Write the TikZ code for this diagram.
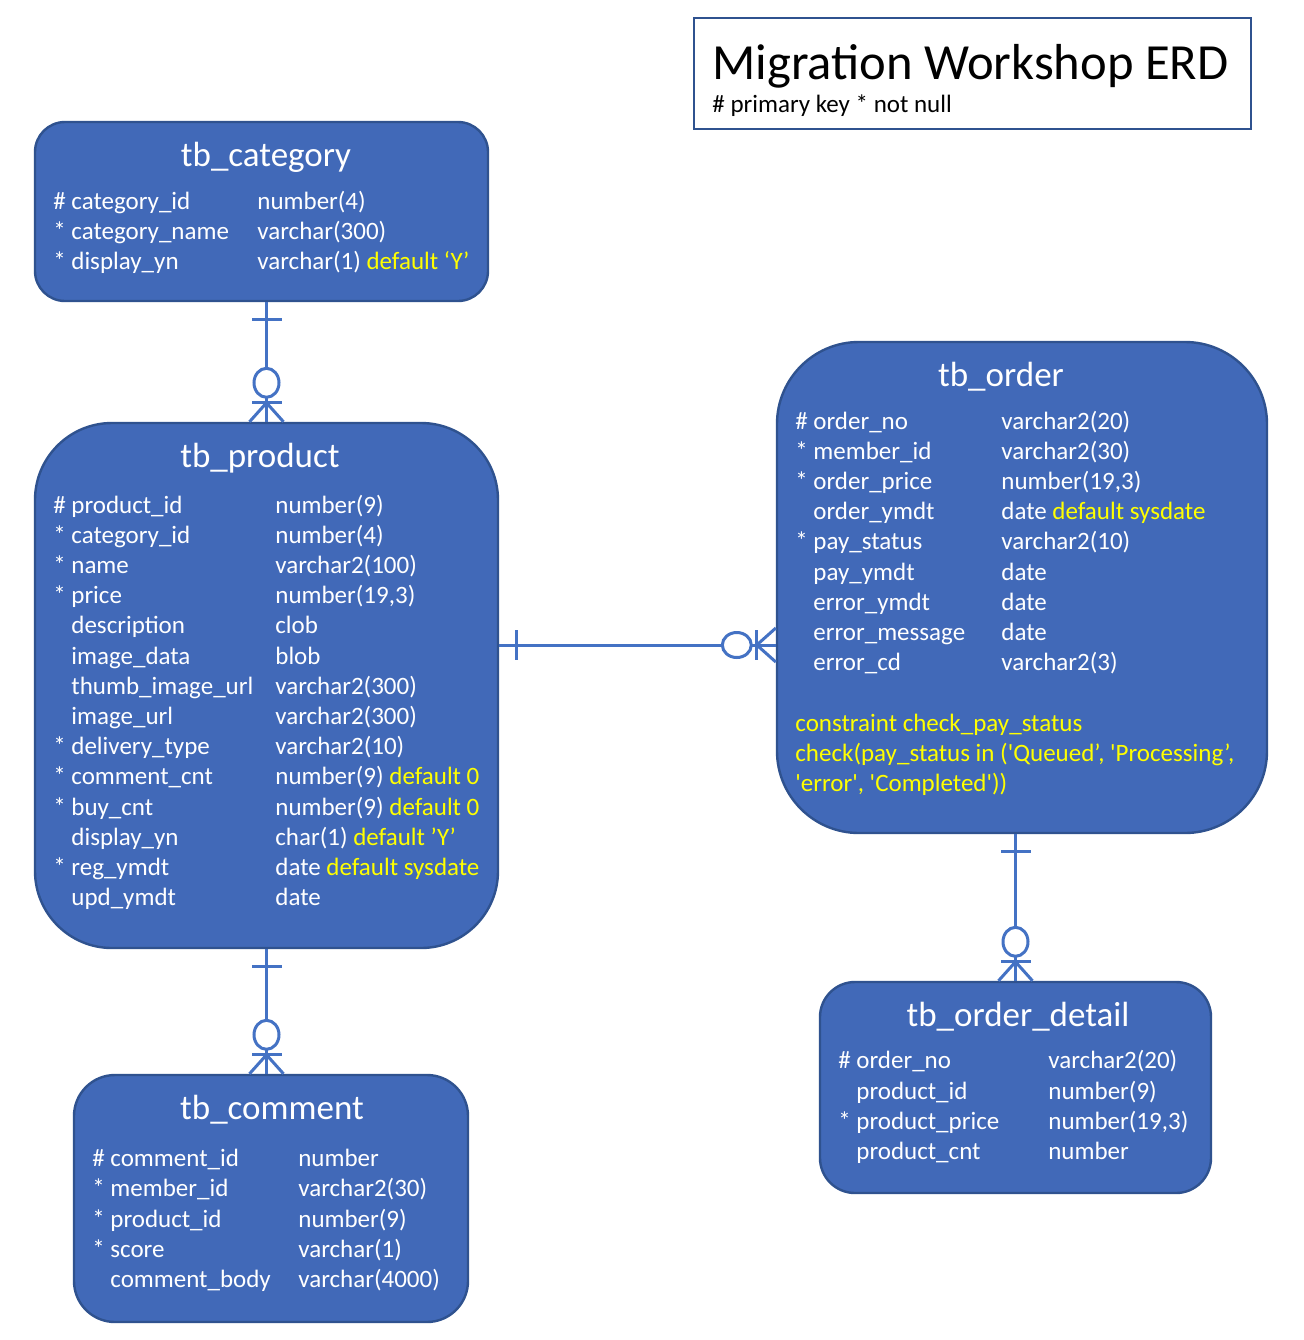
\documentclass[tikz,border=0pt]{standalone}
\usepackage{fontspec}
\setmainfont{Carlito}
\usetikzlibrary{calc}
\definecolor{erfill}{HTML}{4169B8}
\definecolor{erline}{HTML}{2F528F}
\definecolor{erlink}{HTML}{4472C4}
\definecolor{eryel}{HTML}{FFFF00}
\newlength\colw
\newcommand{\fld}[3]{\makebox[9pt][l]{#1}\makebox[\colw][l]{#2}#3}
\newcommand{\dft}[1]{\textcolor{eryel}{#1}}
\tikzset{
  entity/.style={draw=erline, line width=1.2pt, fill=erfill},
  tbname/.style={anchor=base, text=white, inner sep=0pt, font=\fontsize{17.5}{21}\selectfont},
  % anchored at the baseline of the last line
  fields/.style={anchor=base west, text=white, align=left, inner sep=0pt, font=\fontsize{12.5}{15.1}\selectfont},
  rel/.style={draw=erlink, line width=1.5pt},
  onebar/.pic={\draw[rel] (17,-15) -- (17,15);},
  zeromany/.pic={
    \draw[rel] (0,-17) -- (-19,0) -- (0,17);
    \draw[rel] (-19,-15) -- (-19,15);
    \draw[rel, fill=white] (-39,0) ellipse [x radius=14.5, y radius=12.5];
  },
}

\begin{document}
\begin{tikzpicture}[x=0.5pt, y=-0.5pt]
  \useasboundingbox[fill=white] (0,0) rectangle (1304,1340);

  % Title box
  \node[draw=erline, line width=1pt, minimum width=278.5pt, minimum height=55.5pt] (ttl) at (972.5,73.5) {};
  \node[anchor=base west, inner sep=0pt, font=\fontsize{25.3}{30}\selectfont] (ttl-a) at (712,79) {Migration Workshop ERD};
  \node[anchor=base west, inner sep=0pt, font=\fontsize{12.5}{15}\selectfont] (ttl-b) at (712,112) {\# primary key * not null};

  % Entities
  \node[entity, rounded corners=15pt, minimum width=226.5pt, minimum height=89.5pt] (cat) at (261.5,211.5) {};
  \node[entity, rounded corners=38.5pt, minimum width=231.5pt, minimum height=262.5pt] (prod) at (266.5,685.5) {};
  \node[entity, rounded corners=20.5pt, minimum width=197pt, minimum height=123.5pt] (com) at (271,1198.5) {};
  \node[entity, rounded corners=41pt, minimum width=245pt, minimum height=245.5pt] (ord) at (1022,587.5) {};
  \node[entity, rounded corners=17.5pt, minimum width=195.5pt, minimum height=105.5pt] (det) at (1015.5,1087.5) {};

  % Table names
  \node[tbname] (cat-t) at (266,166) {tb\_category};
  \node[tbname] (prod-t) at (260,467) {tb\_product};
  \node[tbname] (com-t) at (272,1119) {tb\_comment};
  \node[tbname] (ord-t) at (1001,386) {tb\_order};
  \node[tbname] (det-t) at (1018,1026) {tb\_order\_detail};

  % Columns
  \setlength\colw{93pt}
  \node[fields] (cat-f) at (53,269.4) {\fld{\#}{category\_id}{number(4)}\\
    \fld{*}{category\_name}{varchar(300)}\\
    \fld{*}{display\_yn}{varchar(1) \dft{default ‘Y’}}};
  \setlength\colw{102pt}
  \node[fields] (prod-f) at (53,905.6) {\fld{\#}{product\_id}{number(9)}\\
    \fld{*}{category\_id}{number(4)}\\
    \fld{*}{name}{varchar2(100)}\\
    \fld{*}{price}{number(19,3)}\\
    \fld{}{description}{clob}\\
    \fld{}{image\_data}{blob}\\
    \fld{}{thumb\_image\_url}{varchar2(300)}\\
    \fld{}{image\_url}{varchar2(300)}\\
    \fld{*}{delivery\_type}{varchar2(10)}\\
    \fld{*}{comment\_cnt}{number(9) \dft{default 0}}\\
    \fld{*}{buy\_cnt}{number(9) \dft{default 0}}\\
    \fld{}{display\_yn}{char(1) \dft{default ’Y’}}\\
    \fld{*}{reg\_ymdt}{date \dft{default sysdate}}\\
    \fld{}{upd\_ymdt}{date}};
  \setlength\colw{94pt}
  \node[fields] (com-f) at (92,1287.5) {\fld{\#}{comment\_id}{number}\\
    \fld{*}{member\_id}{varchar2(30)}\\
    \fld{*}{product\_id}{number(9)}\\
    \fld{*}{score}{varchar(1)}\\
    \fld{}{comment\_body}{varchar(4000)}};
  \node[fields] (ord-f) at (795,791.5) {\fld{\#}{order\_no}{varchar2(20)}\\
    \fld{*}{member\_id}{varchar2(30)}\\
    \fld{*}{order\_price}{number(19,3)}\\
    \fld{}{order\_ymdt}{date \dft{default sysdate}}\\
    \fld{*}{pay\_status}{varchar2(10)}\\
    \fld{}{pay\_ymdt}{date}\\
    \fld{}{error\_ymdt}{date}\\
    \fld{}{error\_message}{date}\\
    \fld{}{error\_cd}{varchar2(3)}\\[15.1pt]
    \dft{constraint check\_pay\_status}\\
    \dft{check(pay\_status in (\textquotesingle Queued’, \textquotesingle Processing’,}\\
    \dft{\textquotesingle error\textquotesingle, \textquotesingle Completed\textquotesingle))}};
  \setlength\colw{96pt}
  \node[fields] (det-f) at (838,1159.5) {\fld{\#}{order\_no}{varchar2(20)}\\
    \fld{}{product\_id}{number(9)}\\
    \fld{*}{product\_price}{number(19,3)}\\
    \fld{}{product\_cnt}{number}};

  % Relations
  \coordinate (po) at (0,645);
  \draw[rel] (cat.south -| prod.north) -- (prod.north);
  \draw[rel] (prod.east |- po) -- (ord.west |- po);
  \draw[rel] (prod.south) -- (prod.south |- com.north);
  \draw[rel] (ord.south -| det.north) -- (det.north);

  \pic[rotate=-90] at (cat.south -| prod.north) {onebar};
  \pic[rotate=-90] at (prod.north) {zeromany};
  \pic at (prod.east |- po) {onebar};
  \pic at (ord.west |- po) {zeromany};
  \pic[rotate=-90] at (prod.south) {onebar};
  \pic[rotate=-90] at (prod.south |- com.north) {zeromany};
  \pic[rotate=-90] at (ord.south -| det.north) {onebar};
  \pic[rotate=-90] at (det.north) {zeromany};
\end{tikzpicture}
\end{document}
